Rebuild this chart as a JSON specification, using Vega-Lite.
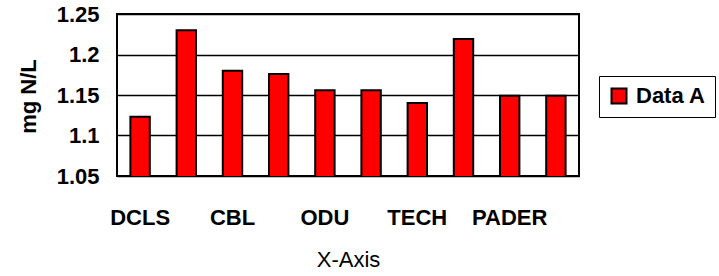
{
  "$schema": "https://vega.github.io/schema/vega-lite/v6.json",
  "width": 462,
  "height": 162,
  "autosize": {"type": "none"},
  "padding": {"left": 117, "top": 14, "right": 140, "bottom": 100},
  "background": "white",
  "config": {
    "font": "Liberation Sans",
    "view": {"stroke": "black", "strokeWidth": 2}
  },
  "data": {
    "values": [
      {"lab": "DCLS-1", "value": 1.123},
      {"lab": "DCLS-2", "value": 1.230},
      {"lab": "CBL-1", "value": 1.180},
      {"lab": "CBL-2", "value": 1.176},
      {"lab": "ODU-1", "value": 1.156},
      {"lab": "ODU-2", "value": 1.156},
      {"lab": "TECH-1", "value": 1.140},
      {"lab": "TECH-2", "value": 1.219},
      {"lab": "PADER-1", "value": 1.149},
      {"lab": "PADER-2", "value": 1.149}
    ]
  },
  "mark": {"type": "bar", "stroke": "black", "strokeWidth": 2, "clip": true},
  "encoding": {
    "x": {
      "field": "lab",
      "type": "nominal",
      "sort": null,
      "scale": {"paddingInner": 0.58, "paddingOuter": 0.29},
      "axis": {
        "title": "X-Axis",
        "titleFont": "Liberation Sans",
        "titleFontSize": 22,
        "titleFontWeight": "normal",
        "titleColor": "black",
        "titleY": 73,
        "titleBaseline": "top",
        "labelExpr": "indexof(datum.value, '-2') >= 0 ? '' : split(datum.value, '-')[0]",
        "labelAngle": 0,
        "labelFontSize": 22,
        "labelFontWeight": "bold",
        "labelColor": "black",
        "labelPadding": 31,
        "labelBaseline": "top",
        "ticks": false,
        "tickSize": 0,
        "domain": false,
        "labelOverlap": false
      }
    },
    "y": {
      "field": "value",
      "type": "quantitative",
      "scale": {"domain": [1.05, 1.25], "zero": false, "nice": false},
      "axis": {
        "title": "mg N/L",
        "titleFontSize": 22,
        "titleFontWeight": "bold",
        "titleColor": "black",
        "titleAngle": -90,
        "titleBaseline": "middle",
        "titleX": -89,
        "titleY": 82,
        "values": [1.05, 1.1, 1.15, 1.2, 1.25],
        "format": ".2~f",
        "labelFontSize": 22,
        "labelFontWeight": "bold",
        "labelColor": "black",
        "labelPadding": 18,
        "ticks": false,
        "tickSize": 0,
        "domain": false,
        "grid": true,
        "gridColor": "black",
        "gridWidth": 1.5,
        "gridOpacity": 1
      }
    },
    "color": {
      "datum": "Data A",
      "scale": {"range": ["#ff0000"]},
      "legend": {
        "title": null,
        "orient": "none",
        "legendX": 482,
        "legendY": 62,
        "symbolType": "square",
        "symbolSize": 225,
        "symbolStrokeColor": "black",
        "symbolStrokeWidth": 2,
        "symbolFillColor": "#ff0000",
        "symbolOpacity": 1,
        "labelFontSize": 22,
        "labelFontWeight": "bold",
        "labelColor": "black",
        "labelOffset": 6,
        "strokeColor": "black",
        "padding": 9,
        "fillColor": "white",
        "encoding": {"legend": {"update": {"strokeWidth": {"value": 2}}}}
      }
    }
  }
}
